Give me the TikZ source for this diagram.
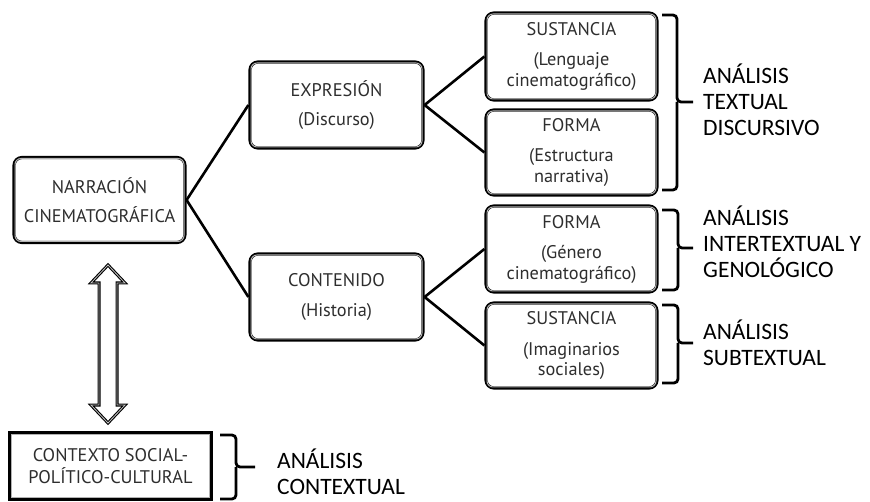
\documentclass[tikz,border=0pt]{standalone}
\usepackage{fontspec}
\setmainfont{Carlito}
\newfontfamily\boxfont{PT Sans}
\usetikzlibrary{calc}
\tikzset{
  box/.style={draw=black, line width=3.2pt, rounded corners=8pt, fill=white, inner sep=0pt,
    align=center, text=black!82, font=\boxfont\fontsize{18.3}{20.5}\selectfont},
  sqbox/.style={draw=black, line width=3.2pt, fill=white, inner sep=0pt,
    align=center, text=black!82, font=\boxfont\fontsize{18.3}{22}\selectfont},
  inner border/.style={draw=gray!60, line width=1pt},
  conn/.style={draw=black, line width=2.6pt},
  brace/.style={draw=black, line width=2.8pt, rounded corners=4pt},
  lab/.style={anchor=west, align=left, text=black, inner sep=0pt, font=\fontsize{23.5}{26}\selectfont},
  arrowline/.style={draw=black, line width=1.1pt, double=gray!45, double distance=0.8pt, fill=white, line join=miter}
}
\begin{document}
\begin{tikzpicture}[x=1pt,y=-1pt]
\useasboundingbox (0,0) rectangle (870,502);
% boxes
\node[box, minimum width=171pt, minimum height=85pt] (narr) at (99.5,200) {NARRACIÓN\\[8pt]CINEMATOGRÁFICA};
\node[box, minimum width=173pt, minimum height=86pt] (expr) at (336.5,105) {EXPRESIÓN\\[9pt](Discurso)};
\node[box, minimum width=173pt, minimum height=86pt] (cont) at (336.5,297) {CONTENIDO\\[9pt](Historia)};
\node[box, minimum width=171pt, minimum height=87pt] (sust1) at (571.5,56.5) {SUSTANCIA\\[10pt](Lenguaje\\cinematográfico)};
\node[box, minimum width=171pt, minimum height=85pt] (forma1) at (571.5,152.5) {FORMA\\[10pt](Estructura\\narrativa)};
\node[box, minimum width=171pt, minimum height=86pt] (forma2) at (571.5,249) {FORMA\\[10pt](Género\\cinematográfico)};
\node[box, minimum width=171pt, minimum height=85pt] (sust2) at (571.5,345.5) {SUSTANCIA\\[10pt](Imaginarios\\sociales)};
\node[sqbox, minimum width=201pt, minimum height=66pt] (ctx) at (110.5,466) {CONTEXTO SOCIAL-\\POLÍTICO-CULTURAL};
% inner borders
\foreach \n in {narr,expr,cont,sust1,forma1,forma2,sust2}
  \draw[inner border, rounded corners=6pt] ([shift={(2.6pt,-2.6pt)}]\n.north west) rectangle ([shift={(-2.6pt,2.6pt)}]\n.south east);
\draw[inner border] ([shift={(2.8pt,-2.8pt)}]ctx.north west) rectangle ([shift={(-2.8pt,2.8pt)}]ctx.south east);
% connectors
\draw[conn] (narr.east) -- (expr.west);
\draw[conn] (narr.east) -- (cont.west);
\draw[conn] (expr.east) -- (sust1.west);
\draw[conn] (expr.east) -- (forma1.west);
\draw[conn] (cont.east) -- (forma2.west);
\draw[conn] (cont.east) -- (sust2.west);
% double arrow
\coordinate (atop) at (108,265);
\coordinate (abot) at (108,423);
\draw[arrowline] (atop) -- ++(17,18) -- ++(-8,0) -- ($(abot)+(9,-18)$) -- ++(8,0) -- (abot)
  -- ++(-17,-18) -- ++(8,0) -- ($(atop)+(-9,18)$) -- ++(-8,0) -- cycle;
% braces
\draw[brace] (662,15) -- (677,15) -- (677,102) -- (693,102);
\draw[brace] (662,190) -- (677,190) -- (677,102);
\draw[brace] (662,210) -- (678,210) -- (678,248) -- (693,248);
\draw[brace] (662,290) -- (678,290) -- (678,248);
\draw[brace] (662,305) -- (678,305) -- (678,343) -- (693,343);
\draw[brace] (662,383) -- (678,383) -- (678,343);
\draw[brace] (220,435) -- (236,435) -- (236,467) -- (255,467);
\draw[brace] (220,499) -- (236,499) -- (236,467);
% labels
\node[lab] (l1) at (703,100) {ANÁLISIS\\TEXTUAL\\DISCURSIVO};
\node[lab] (l2) at (703,242) {ANÁLISIS\\INTERTEXTUAL Y\\GENOLÓGICO};
\node[lab] (l3) at (703,343) {ANÁLISIS\\SUBTEXTUAL};
\node[lab] (l4) at (277,472) {ANÁLISIS\\CONTEXTUAL};
\end{tikzpicture}
\end{document}
